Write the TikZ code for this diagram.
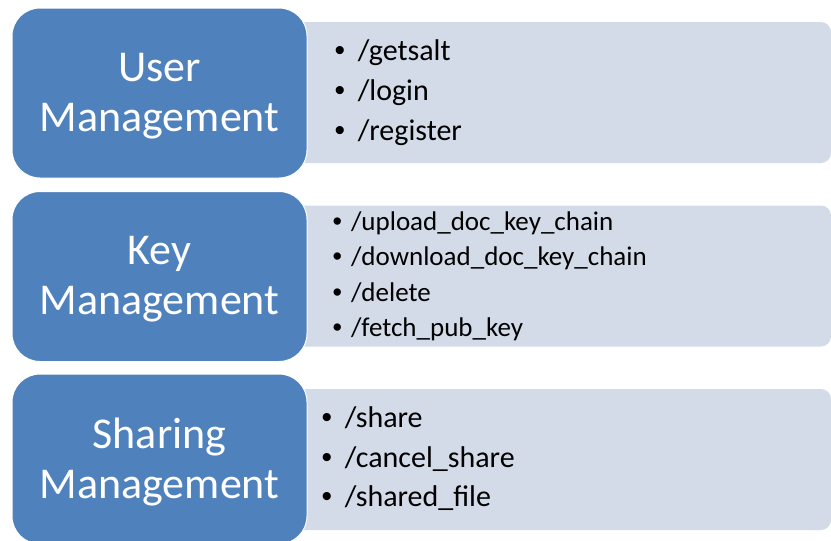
\documentclass[tikz,border=0pt]{standalone}
\usepackage{fontspec}
\setmainfont{Carlito}
\newfontfamily\bulletfont{Liberation Sans}
\usetikzlibrary{positioning}

\definecolor{groupblue}{RGB}{79,129,189}
\definecolor{listgray}{RGB}{212,219,232}

\newcommand{\itm}[2][0.77em]{\makebox[#1][l]{\bulletfont •}#2}

\tikzset{
  list box/.style={fill=listgray, minimum width=541pt, minimum height=141pt,
    rounded corners=10pt, inner sep=0pt},
  group box/.style={fill=groupblue, draw=white, line width=1pt,
    minimum width=295pt, minimum height=170pt, rounded corners=28pt,
    inner sep=0pt},
  group title/.style={text=white, align=center, inner sep=0pt,
    font=\fontsize{44}{50}\selectfont},
  list text/.style={align=left, inner sep=0pt, anchor=west}
}

\begin{document}
\begin{tikzpicture}[x=1pt, y=-1pt]

\useasboundingbox (0,0) rectangle (831,541);
\clip (0,0) rectangle (831,541);

\foreach \n/\y in {user/92.5, key/276, sharing/459.5}
  \node [list box] (list-\n) at (560.5,\y) {};

\foreach \n/\l/\y in {user/User/93, key/Key/276.5, sharing/Sharing/459}
{
  \node [group box] (group-\n) at (159.5,\y) {};
  \node [group title] (title-\n) at ([yshift=-3pt]group-\n.center) {\l\\Management};
}

\node [list text, font=\fontsize{30}{40}\selectfont, right=27pt of group-user]
  (items-user) {\itm{/getsalt}\\ \itm{/login}\\ \itm{/register}};

\node [list text, font=\fontsize{27}{35.5}\selectfont, right=25pt of group-key]
  (items-key) {\itm[0.68em]{/upload\_doc\_key\_chain}\\
    \itm[0.68em]{/download\_doc\_key\_chain}\\
    \itm[0.68em]{/delete}\\
    \itm[0.68em]{/fetch\_pub\_key}};

\node [list text, font=\fontsize{30}{39.5}\selectfont, right=14pt of group-sharing]
  (items-sharing) {\itm{/share}\\ \itm{/cancel\_share}\\ \itm{/shared\_file}};

\end{tikzpicture}
\end{document}
